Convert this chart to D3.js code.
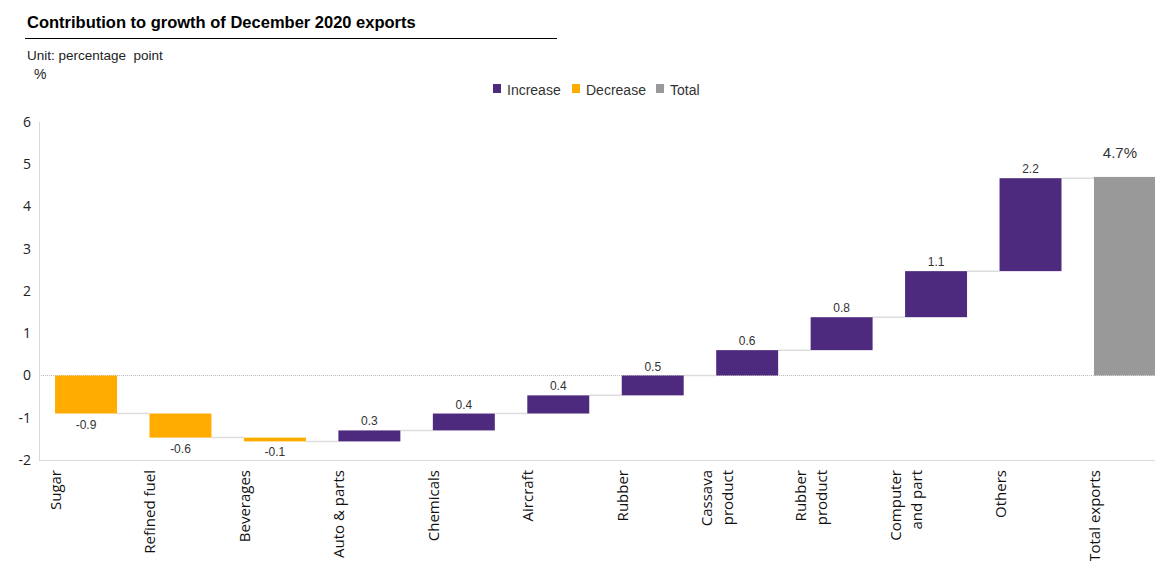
<html>
<head>
  <meta charset="utf-8">
  <script src="https://d3js.org/d3.v7.min.js"></script>
  <style>
    body { margin: 0; background: #fff; }
    .title { font-family: "Liberation Sans", Arial, sans-serif; font-weight: bold; font-size: 16.5px; fill: #000; }
    .note { font-family: "Liberation Sans", Arial, sans-serif; font-size: 13.5px; fill: #222; white-space: pre; }
    .legend text { font-family: "Liberation Sans", Arial, sans-serif; font-size: 14px; fill: #333; }
    .y.axis text { font-family: "Open Sans", sans-serif; font-size: 14px; fill: #222; }
    .y.axis .domain, .y.axis line { stroke: none; }
    .xlabel { font-family: "Open Sans", sans-serif; font-size: 15px; fill: #111; }
    .vlabel { font-family: "Liberation Sans", Arial, sans-serif; font-size: 12px; fill: #333; }
  </style>
</head>
<body>
<svg id="p" width="1155" height="561"></svg>
<script>
  // data
  const categories = ["Sugar", "Refined fuel", "Beverages", "Auto & parts", "Chemicals", "Aircraft",
                      "Rubber", "Cassava\nproduct", "Rubber\nproduct", "Computer\nand part", "Others", "Total exports"];
  const changes = [-0.90, -0.57, -0.09, 0.26, 0.40, 0.43, 0.47, 0.60, 0.78, 1.09, 2.20];
  const totalValue = 4.7;
  const yTicks = [-2, -1, 0, 1, 2, 3, 4, 5, 6];
  const legendItems = ["Increase", "Decrease", "Total"];
  const colors = {Increase: "#4e2a7e", Decrease: "#ffab00", Total: "#999999"};

  const svg = d3.select("svg#p");
  const fmt = v => d3.format(".1f")(v).replace("\u2212", "-");

  // build waterfall rows
  let run = 0;
  const rows = changes.map((v, i) => {
    const start = run;
    run += v;
    return {name: categories[i], start: start, end: run, value: v, type: v >= 0 ? "Increase" : "Decrease"};
  });
  rows.push({name: categories[11], start: 0, end: totalValue, value: totalValue, type: "Total"});

  const x = d3.scaleBand().domain(categories).range([39, 1172]).paddingInner(0.344).paddingOuter(0.17);
  const y = d3.scaleLinear().domain([-2, 6]).range([460, 122]);

  // title
  svg.append("text").attr("class", "title").attr("x", 27).attr("y", 28)
     .text("Contribution to growth of December 2020 exports");
  svg.append("line").attr("x1", 25).attr("x2", 557).attr("y1", 38.5).attr("y2", 38.5)
     .attr("stroke", "#000").attr("stroke-width", 1);
  svg.append("text").attr("class", "note").attr("x", 27).attr("y", 60).text("Unit: percentage  point");
  svg.append("text").attr("class", "note").attr("x", 34).attr("y", 79).style("font-size", "14px").text("%");

  // legend
  const legend = svg.append("g").attr("class", "legend");
  const legendX = [493, 572, 656];
  legendItems.forEach((d, i) => {
    legend.append("rect").attr("x", legendX[i]).attr("y", 84).attr("width", 8).attr("height", 9)
          .attr("fill", colors[d]);
    legend.append("text").attr("x", legendX[i] + 14).attr("y", 95).text(d);
  });

  // axes
  svg.append("g").attr("class", "y axis").attr("transform", "translate(31,0)")
     .call(d3.axisLeft(y).tickValues(yTicks).tickSize(0).tickPadding(0).tickFormat(d => String(d)));
  svg.append("line").attr("x1", 39.5).attr("x2", 39.5).attr("y1", y(6)).attr("y2", y(-2))
     .attr("stroke", "#d9d9d9");
  svg.append("line").attr("x1", 39).attr("x2", 1155).attr("y1", y(-2) + 0.5).attr("y2", y(-2) + 0.5)
     .attr("stroke", "#d9d9d9");
  svg.append("line").attr("x1", 41).attr("x2", 1155).attr("y1", y(0)).attr("y2", y(0))
     .attr("stroke", "#bbb").attr("stroke-dasharray", "1,1");

  // connectors
  svg.append("g").selectAll("line").data(rows.slice(0, -1))
     .join("line")
     .attr("x1", d => x(d.name) + x.bandwidth())
     .attr("x2", (d, i) => x(rows[i + 1].name))
     .attr("y1", d => y(d.end)).attr("y2", d => y(d.end))
     .attr("stroke", "#dddddd").attr("stroke-width", 1.5);

  // bars
  svg.append("g").selectAll("rect").data(rows)
     .join("rect")
     .attr("x", d => x(d.name))
     .attr("width", x.bandwidth())
     .attr("y", d => y(Math.max(d.start, d.end)))
     .attr("height", d => Math.abs(y(d.start) - y(d.end)))
     .attr("fill", d => colors[d.type]);

  // value labels
  svg.append("g").selectAll("text").data(rows)
     .join("text")
     .attr("class", "vlabel")
     .attr("text-anchor", "middle")
     .attr("x", d => x(d.name) + x.bandwidth() / 2 - (d.type === "Total" ? 5 : 0))
     .attr("y", d => d.type === "Total" ? y(d.end) - 19 : d.value < 0 ? y(d.end) + 15 : y(d.end) - 5)
     .style("font-size", d => d.type === "Total" ? "15px" : null)
     .text(d => d.type === "Total" ? fmt(d.value) + "%" : fmt(d.value));

  // category labels, rotated
  const xl = svg.append("g").selectAll("g").data(categories)
     .join("g")
     .attr("transform", d => "translate(" + (x(d) + x.bandwidth() / 2 - 30) + ",470) rotate(-90)");
  xl.each(function(d) {
    const lines = d.split("\n");
    const t = d3.select(this).append("text").attr("class", "xlabel").attr("text-anchor", "end");
    lines.forEach((ln, i) => {
      t.append("tspan").attr("x", 0).attr("y", (i - (lines.length - 1) / 2) * 21 + 5).text(ln);
    });
  });
</script>
</body>
</html>
